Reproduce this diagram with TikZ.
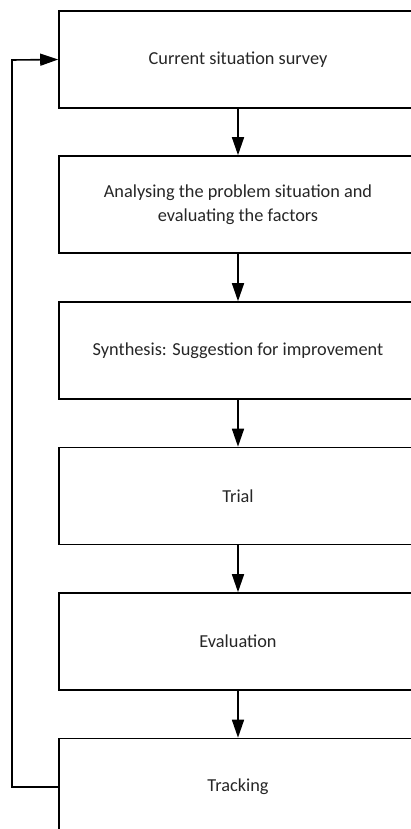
\documentclass[tikz,border=0pt]{standalone}
\usepackage{fontspec}
\setmainfont{Carlito}
\usetikzlibrary{arrows.meta}
\begin{document}
\begin{tikzpicture}[x=1pt,y=-1pt,
  stepbox/.style={draw=black,line width=1.6pt,minimum width=358pt,minimum height=97pt,
    inner sep=0pt,align=center,font=\fontsize{18.3}{24}\selectfont,text=black!85},
  conn/.style={draw=black,line width=1.6pt,-{Triangle[length=18pt,width=12pt]}}]
\clip (0,0) rectangle (411,829);
\useasboundingbox (0,0) rectangle (411,829);
\node[stepbox] (b1) at (238,59.5) {Current situation survey};
\node[stepbox] (b2) at (238,204.5) {Analysing the problem situation and\\evaluating the factors};
\node[stepbox] (b3) at (238,350.5) {Synthesis: Suggestion for improvement};
\node[stepbox] (b4) at (238,496) {Trial};
\node[stepbox] (b5) at (238,641.5) {Evaluation};
\node[stepbox] (b6) at (238,787) {Tracking};
\draw[conn] (b1) -- (b2);
\draw[conn] (b2) -- (b3);
\draw[conn] (b3) -- (b4);
\draw[conn] (b4) -- (b5);
\draw[conn] (b5) -- (b6);
\coordinate (c1) at (12,787);
\coordinate (c2) at (12,60);
\draw[conn] (b6.west) -- (c1) -- (c2) -- (b1.west);
\end{tikzpicture}
\end{document}
